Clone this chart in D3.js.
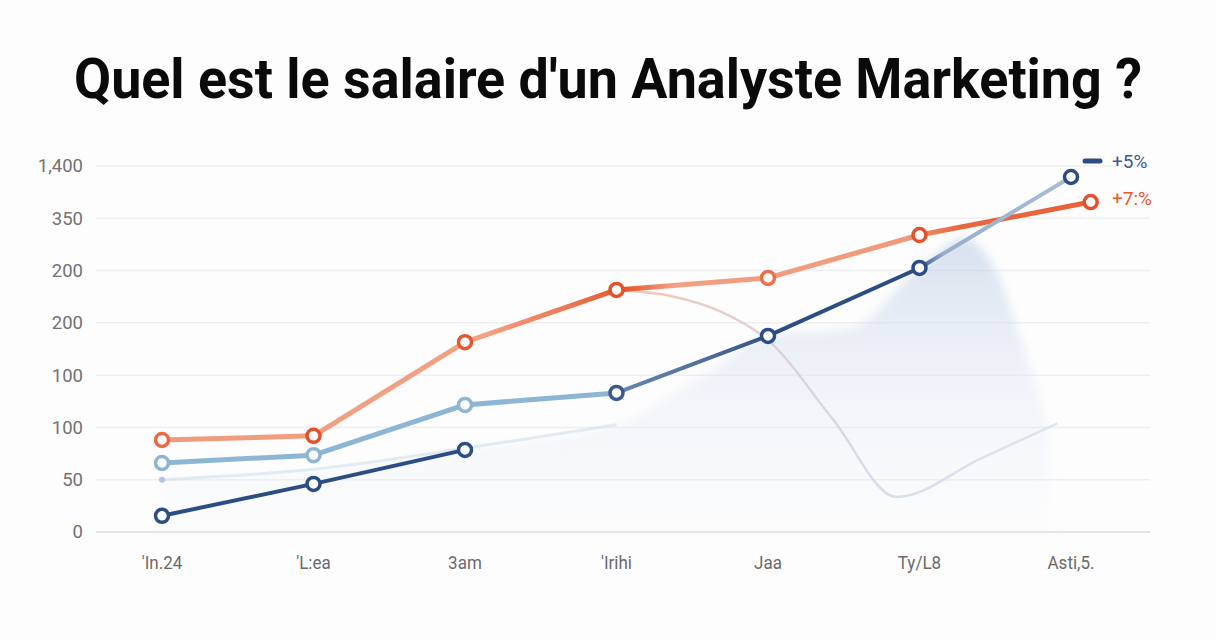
<!DOCTYPE html>
<html>
<head>
<meta charset="utf-8">
<script src="https://cdn.jsdelivr.net/npm/d3@7"></script>
<style>
  body { margin: 0; background: #fdfdfd; }
  svg { display: block; font-family: Roboto, "Noto Sans", sans-serif; }
</style>
</head>
<body>
<script>
// Chart values (y in tick-index units, x in category units)
const titleText = "Quel est le salaire d'un Analyste Marketing ?";
const categories = ["'In.24", "'L:ea", "3am", "'Irihi", "Jaa", "Ty/L8", "Asti,5."];
const yTickLabels = ["0", "50", "100", "100", "200", "200", "350", "1,400"];

const orangeX = [0, 1, 2, 3, 4, 5, 6.13];
const orangeY = [1.76, 1.84, 3.63, 4.63, 4.86, 5.68, 6.31];

const lightBlueX = [0, 1, 2, 3];
const lightBlueY = [1.32, 1.47, 2.43, 2.66];

const navyLowX = [0, 1, 2];
const navyLowY = [0.31, 0.92, 1.57];

const navyHighX = [3, 4, 5, 6];
const navyHighY = [2.66, 3.75, 5.05, 6.79];

const faintLineX = [0, 1, 2, 3];
const faintLineY = [1.0, 1.2, 1.6, 2.05];

const fadeCurveX = [3, 3.35, 3.7, 4, 4.43, 4.85, 5.4, 5.91];
const fadeCurveY = [4.63, 4.52, 4.2, 3.67, 2.15, 0.67, 1.4, 2.08];

const areaX = [0, 1, 2, 3, 3.55, 4, 4.55, 5, 5.3, 5.5, 5.68, 5.85];
const areaY = [1.0, 1.2, 1.6, 2.05, 2.95, 3.75, 3.9, 5.05, 5.62, 5.0, 3.6, 2.0];

const legendLabels = ["+5%", "+7:%"];

const zip = (xs, ys) => xs.map((x, i) => ({ x: x, y: ys[i] }));

const width = 1216, height = 640;
const svg = d3.select("body").append("svg")
    .attr("width", width)
    .attr("height", height);

const defs = svg.append("defs");

const x = d3.scaleLinear().domain([0, 6]).range([162, 1071]);
const y = d3.scaleLinear().domain([0, 7]).range([532, 166]);

// Title
svg.append("text")
    .attr("x", 608)
    .attr("y", 98)
    .attr("text-anchor", "middle")
    .attr("font-size", 56)
    .attr("font-weight", 700)
    .attr("fill", "#0a0a0a")
    .attr("textLength", 1068)
    .attr("lengthAdjust", "spacingAndGlyphs")
    .text(titleText);

// Gridlines
svg.append("g")
    .selectAll("line")
    .data(d3.range(yTickLabels.length))
    .join("line")
    .attr("x1", 96)
    .attr("x2", 1150)
    .attr("y1", d => y(d))
    .attr("y2", d => y(d))
    .attr("stroke", d => d === 0 ? "#e4e4e6" : "#efeff1")
    .attr("stroke-width", d => d === 0 ? 2 : 1.5);

// Y tick labels
svg.append("g")
    .selectAll("text")
    .data(yTickLabels)
    .join("text")
    .attr("x", 83)
    .attr("y", (d, i) => y(i))
    .attr("dy", "0.35em")
    .attr("text-anchor", "end")
    .attr("font-size", 18.5)
    .attr("fill", "#727272")
    .text(d => d);

// X labels
svg.append("g")
    .selectAll("text")
    .data(categories)
    .join("text")
    .attr("x", (d, i) => x(i))
    .attr("y", 569)
    .attr("text-anchor", "middle")
    .attr("font-size", 18.5)
    .attr("fill", "#6a6a6a")
    .attr("transform", (d, i) => `translate(${x(i)},0) scale(0.92,1) translate(${-x(i)},0)`)
    .text(d => d);

// Soft blue area
const areaGrad = defs.append("linearGradient")
    .attr("id", "areaGrad")
    .attr("x1", 0).attr("y1", 0).attr("x2", 0).attr("y2", 1);
areaGrad.append("stop").attr("offset", "0%").attr("stop-color", "#b9c9e3").attr("stop-opacity", 0.55);
areaGrad.append("stop").attr("offset", "45%").attr("stop-color", "#d3ddee").attr("stop-opacity", 0.35);
areaGrad.append("stop").attr("offset", "100%").attr("stop-color", "#eef2f8").attr("stop-opacity", 0.12);

const blur = defs.append("filter").attr("id", "soft")
    .attr("x", "-10%").attr("y", "-10%").attr("width", "120%").attr("height", "120%");
blur.append("feGaussianBlur").attr("stdDeviation", 5);

const area = d3.area()
    .x(d => x(d.x))
    .y0(y(0))
    .y1(d => y(d.y))
    .curve(d3.curveMonotoneX);

svg.append("path")
    .datum(zip(areaX, areaY))
    .attr("fill", "url(#areaGrad)")
    .attr("filter", "url(#soft)")
    .attr("d", area);

// Faint lines
svg.append("path")
    .datum(zip(faintLineX, faintLineY))
    .attr("fill", "none")
    .attr("stroke", "#c6d4e7")
    .attr("stroke-width", 3)
    .attr("opacity", 0.45)
    .attr("d", d3.line().x(d => x(d.x)).y(d => y(d.y)).curve(d3.curveMonotoneX));

svg.append("circle")
    .attr("cx", x(faintLineX[0]))
    .attr("cy", y(faintLineY[0]))
    .attr("r", 3)
    .attr("fill", "#b3c6de");

const fadeGrad = defs.append("linearGradient")
    .attr("id", "fadeGrad")
    .attr("gradientUnits", "userSpaceOnUse")
    .attr("x1", x(3)).attr("x2", x(6)).attr("y1", 0).attr("y2", 0);
fadeGrad.append("stop").attr("offset", "0%").attr("stop-color", "#f2b7a3");
fadeGrad.append("stop").attr("offset", "30%").attr("stop-color", "#dcc6c8");
fadeGrad.append("stop").attr("offset", "55%").attr("stop-color", "#ccd6e6");
fadeGrad.append("stop").attr("offset", "100%").attr("stop-color", "#d8e1ee");

svg.append("path")
    .datum(zip(fadeCurveX, fadeCurveY))
    .attr("fill", "none")
    .attr("stroke", "url(#fadeGrad)")
    .attr("stroke-width", 2.5)
    .attr("opacity", 0.8)
    .attr("d", d3.line().x(d => x(d.x)).y(d => y(d.y)).curve(d3.curveMonotoneX));

// Orange line
const orangeGrad = defs.append("linearGradient")
    .attr("id", "orangeGrad")
    .attr("gradientUnits", "userSpaceOnUse")
    .attr("x1", x(0)).attr("x2", x(6.13)).attr("y1", 0).attr("y2", 0);
[[0, "#ef9a7b"], [0.22, "#f0a083"], [0.35, "#f2a183"], [0.5, "#e4582f"], [0.55, "#f2a083"],
 [0.8, "#f09a7a"], [0.86, "#e9663e"], [1, "#e8603a"]].forEach(s =>
    orangeGrad.append("stop").attr("offset", s[0]).attr("stop-color", s[1]));

svg.append("path")
    .datum(zip(orangeX, orangeY))
    .attr("fill", "none")
    .attr("stroke", "url(#orangeGrad)")
    .attr("stroke-width", 5)
    .attr("stroke-linejoin", "round")
    .attr("d", d3.line().x(d => x(d.x)).y(d => y(d.y)));

// Light blue line
svg.append("path")
    .datum(zip(lightBlueX, lightBlueY))
    .attr("fill", "none")
    .attr("stroke", "#8db5d4")
    .attr("stroke-width", 5)
    .attr("stroke-linejoin", "round")
    .attr("d", d3.line().x(d => x(d.x)).y(d => y(d.y)));

// Navy lines
svg.append("path")
    .datum(zip(navyLowX, navyLowY))
    .attr("fill", "none")
    .attr("stroke", "#2c4c84")
    .attr("stroke-width", 4)
    .attr("stroke-linejoin", "round")
    .attr("d", d3.line().x(d => x(d.x)).y(d => y(d.y)));

const navyGrad = defs.append("linearGradient")
    .attr("id", "navyGrad")
    .attr("gradientUnits", "userSpaceOnUse")
    .attr("x1", x(3)).attr("x2", x(6)).attr("y1", 0).attr("y2", 0);
[[0, "#6a87b0"], [0.2, "#4d6d9d"], [0.36, "#2c4c84"], [0.66, "#2c4c84"], [0.72, "#98aecd"], [1, "#a9bcd6"]]
    .forEach(s => navyGrad.append("stop").attr("offset", s[0]).attr("stop-color", s[1]));

svg.append("path")
    .datum(zip(navyHighX, navyHighY))
    .attr("fill", "none")
    .attr("stroke", "url(#navyGrad)")
    .attr("stroke-width", 4)
    .attr("stroke-linejoin", "round")
    .attr("d", d3.line().x(d => x(d.x)).y(d => y(d.y)));

// Markers
function markers(xs, ys, colors) {
    svg.append("g")
        .selectAll("circle")
        .data(zip(xs, ys))
        .join("circle")
        .attr("cx", d => x(d.x))
        .attr("cy", d => y(d.y))
        .attr("r", 6.5)
        .attr("fill", "#fff")
        .attr("stroke", (d, i) => colors[i] || colors[colors.length - 1])
        .attr("stroke-width", 3.5);
}

markers(navyLowX, navyLowY, ["#2c4c84"]);
markers(lightBlueX.slice(0, 3), lightBlueY.slice(0, 3), ["#8db5d4"]);
markers(navyHighX, navyHighY, ["#3a5a8e", "#2c4c84"]);
markers(orangeX, orangeY, ["#ea6a43", "#e4502a", "#e4582f", "#e4502a", "#ec6f48", "#e4502a", "#e4502a"]);

// Legend
svg.append("line")
    .attr("x1", 1085).attr("x2", 1100)
    .attr("y1", 161).attr("y2", 161)
    .attr("stroke", "#2c4c84")
    .attr("stroke-width", 5)
    .attr("stroke-linecap", "round");

svg.append("g")
    .selectAll("text")
    .data(legendLabels)
    .join("text")
    .attr("x", 1112)
    .attr("y", (d, i) => i === 0 ? 161 : 198)
    .attr("dy", "0.35em")
    .attr("font-size", 19)
    .attr("fill", (d, i) => i === 0 ? "#3d5b8e" : "#e8582e")
    .text(d => d);
</script>
</body>
</html>
